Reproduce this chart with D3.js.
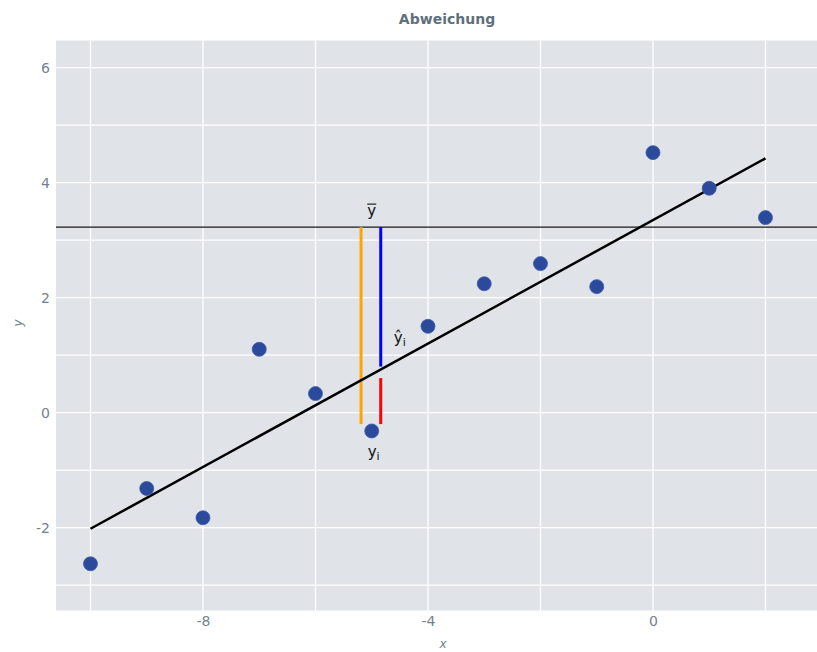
<!DOCTYPE html>
<html><head><meta charset="utf-8">
<script src="https://cdn.jsdelivr.net/npm/d3@7"></script>
<style>body{margin:0;background:#fff;} svg{display:block;font-family:"DejaVu Sans",Verdana,sans-serif;}</style>
</head><body><svg id="c" width="817" height="652"></svg>
<script>
const xValues = [-10,-9,-8,-7,-6,-5,-4,-3,-2,-1,0,1,2];
const yValues = [-2.63,-1.32,-1.83,1.10,0.33,-0.32,1.50,2.24,2.59,2.19,4.52,3.90,3.39];
const regX = [-10, 2];
const regY = [-2.02, 4.42];
const yMean = 3.225;
// deviation segments: [x, y0, y1]
const segOrange = [-5.19, 3.225, -0.20];
const segBlue = [-4.84, 3.225, 0.80];
const segRed = [-4.84, 0.60, -0.20];
const xTicks = [-8,-4,0];
const yTicks = [-2,0,2,4,6];
const xGrid = [-10,-8,-6,-4,-2,0,2];
const yGrid = [-3,-2,-1,0,1,2,3,4,5,6];

const svg = d3.select("#c");
const L=56, R=817, T=40.5, B=610.5;
const x = d3.scaleLinear().domain([-10.613, 2.916]).range([L,R]);
const y = d3.scaleLinear().domain([-3.442, 6.47]).range([B,T]);

svg.append("rect").attr("x",L).attr("y",T).attr("width",R-L).attr("height",B-T).attr("fill","#e0e3e7");
const g = svg.append("g");
g.selectAll(".gx").data(xGrid).join("line").attr("x1",d=>x(d)).attr("x2",d=>x(d)).attr("y1",T).attr("y2",B).attr("stroke","#fff").attr("stroke-width",1.3);
g.selectAll(".gy").data(yGrid).join("line").attr("y1",d=>y(d)).attr("y2",d=>y(d)).attr("x1",L).attr("x2",R).attr("stroke","#fff").attr("stroke-width",1.3);

// axes
const fmt = d=>String(d);
const xa = svg.append("g").attr("transform",`translate(0,${B})`).call(d3.axisBottom(x).tickValues(xTicks).tickSize(0).tickPadding(15).tickFormat(fmt));
const ya = svg.append("g").attr("transform",`translate(${L},0)`).call(d3.axisLeft(y).tickValues(yTicks).tickSize(0).tickPadding(6).tickFormat(fmt));
[xa,ya].forEach(a=>{a.select(".domain").remove(); a.selectAll("text").attr("fill","#73828f").attr("font-size",14).attr("font-family","DejaVu Sans, sans-serif");});
xa.selectAll("text").attr("dy","0");
ya.selectAll("text").attr("dy","0.36em");

// mean line
svg.append("line").attr("x1",L).attr("x2",R).attr("y1",y(yMean)).attr("y2",y(yMean)).attr("stroke","#1a1a1a").attr("stroke-width",1.3);

// segments
[[segOrange,"#FFA500"],[segBlue,"#0000FF"],[segRed,"#FF0000"]].forEach(([s,c])=>{
  svg.append("line").attr("x1",x(s[0])).attr("x2",x(s[0])).attr("y1",y(s[1])).attr("y2",y(s[2])).attr("stroke",c).attr("stroke-width",3);
});

// regression
svg.append("path").datum(regX.map((d,i)=>[d,regY[i]])).attr("d",d3.line().x(d=>x(d[0])).y(d=>y(d[1]))).attr("fill","none").attr("stroke","#000").attr("stroke-width",2.5);

// points
svg.selectAll(".pt").data(xValues.map((d,i)=>[d,yValues[i]])).join("circle").attr("cx",d=>x(d[0])).attr("cy",d=>y(d[1])).attr("r",7).attr("fill","#2c4a9b").attr("stroke","#3d5aa8").attr("stroke-width",0.8);

// annotations
const ann = svg.append("g").attr("font-family","DejaVu Sans, sans-serif").attr("fill","#111").attr("font-size",15);
ann.append("text").attr("x",x(-5)).attr("y",y(yMean)-11).attr("text-anchor","middle").text("y");
ann.append("line").attr("x1",x(-5)-4.5).attr("x2",x(-5)+4.5).attr("y1",y(yMean)-23).attr("y2",y(yMean)-23).attr("stroke","#111").attr("stroke-width",1.1);
const yh = ann.append("text").attr("x",x(-4.5)-6).attr("y",y(1.29)+5);
yh.append("tspan").text("\u0177");
yh.append("tspan").attr("font-size",11).attr("dy",3).text("i");
const yi = ann.append("text").attr("x",x(-5)-4).attr("y",y(-0.68)+5);
yi.append("tspan").text("y");
yi.append("tspan").attr("font-size",11).attr("dy",3).text("i");

// titles
svg.append("text").attr("x",447).attr("y",24).attr("text-anchor","middle").attr("font-weight","bold").attr("font-size",14).attr("fill","#5f6f7d").text("Abweichung");
svg.append("text").attr("x",443).attr("y",648).attr("text-anchor","middle").attr("font-style","italic").attr("font-size",12).attr("fill","#73828f").text("x");
svg.append("text").attr("transform","translate(22,323) rotate(-90)").attr("text-anchor","middle").attr("font-style","italic").attr("font-size",12).attr("fill","#73828f").text("y");
</script></body></html>
